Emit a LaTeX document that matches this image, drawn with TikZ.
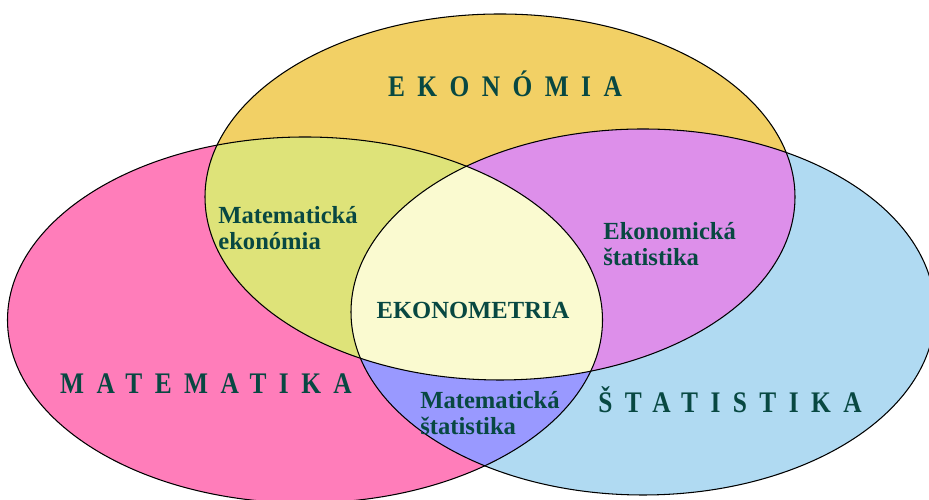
\documentclass[tikz,border=0pt]{standalone}
\usepackage{fontspec}
\setmainfont{Liberation Serif}
\usepackage{graphicx}
\usepackage{xcolor}
\definecolor{ekoFill}{RGB}{242,208,101}
\definecolor{matFill}{RGB}{255,125,186}
\definecolor{statFill}{RGB}{176,218,242}
\definecolor{ekoMatFill}{RGB}{222,227,121}
\definecolor{ekoStatFill}{RGB}{221,143,234}
\definecolor{matStatFill}{RGB}{153,153,255}
\definecolor{allFill}{RGB}{250,250,208}
\definecolor{labelTeal}{RGB}{8,72,66}
\usepackage{tikz}
\usetikzlibrary{positioning}
\tikzstyle{biglabel}=[font=\fontsize{17}{20}\selectfont\bfseries\addfontfeatures{LetterSpace=49}, text=labelTeal, inner sep=0pt, anchor=base]
\tikzstyle{smalllabel}=[font=\fontsize{14}{14.7}\selectfont\bfseries, text=labelTeal, align=left, inner sep=0pt, anchor=north west]
\tikzstyle{setline}=[draw=black, line width=0.6pt]
\newcommand{\ekoSet}{(10.00,6.06) ellipse [x radius=5.90, y radius=3.66]}
\newcommand{\matSet}{(6.10,3.60) ellipse [x radius=5.95, y radius=3.66]}
\newcommand{\statSet}{(12.86,3.76) ellipse [x radius=5.84, y radius=3.66]}
\newcommand{\narrow}[1]{\scalebox{0.85}[1]{#1}}

\begin{document}
\begin{tikzpicture}
    \useasboundingbox (0,0) rectangle (18.58,10);

    % Množiny
    \fill[ekoFill] \ekoSet;
    \fill[matFill] \matSet;
    \fill[statFill] \statSet;

    % Prieniky
    \begin{scope}
      \clip \ekoSet;
      \fill[ekoMatFill] \matSet;
      \fill[ekoStatFill] \statSet;
    \end{scope}
    \begin{scope}
      \clip \matSet;
      \fill[matStatFill] \statSet;
      \clip \statSet;
      \fill[allFill] \ekoSet;
    \end{scope}

    % Obrysy
    \draw[setline] \ekoSet;
    \draw[setline] \matSet;
    \draw[setline] \statSet;

    % Názvy množín
    \node[biglabel] (eko) at (10.10,8.06) {\narrow{EKONÓMIA}};
    \node[biglabel] (mat) at (4.12,2.12) {\narrow{MATEMATIKA}};
    \node[biglabel] (stat) at (14.60,1.74) {\narrow{ŠTATISTIKA}};

    % Prieniky -- popisy
    \node[font=\fontsize{14}{16}\selectfont\bfseries, text=labelTeal, inner sep=0pt, anchor=base] (ekm) at (9.46,3.62) {EKONOMETRIA};
    \node[smalllabel] (matEko) at (4.36,5.88) {Matematická\\ekonómia};
    \node[smalllabel] (ekoStat) at (12.06,5.56) {Ekonomická\\štatistika};
    \node[smalllabel] (matStat) at (8.40,2.18) {Matematická\\štatistika};
\end{tikzpicture}
\end{document}
